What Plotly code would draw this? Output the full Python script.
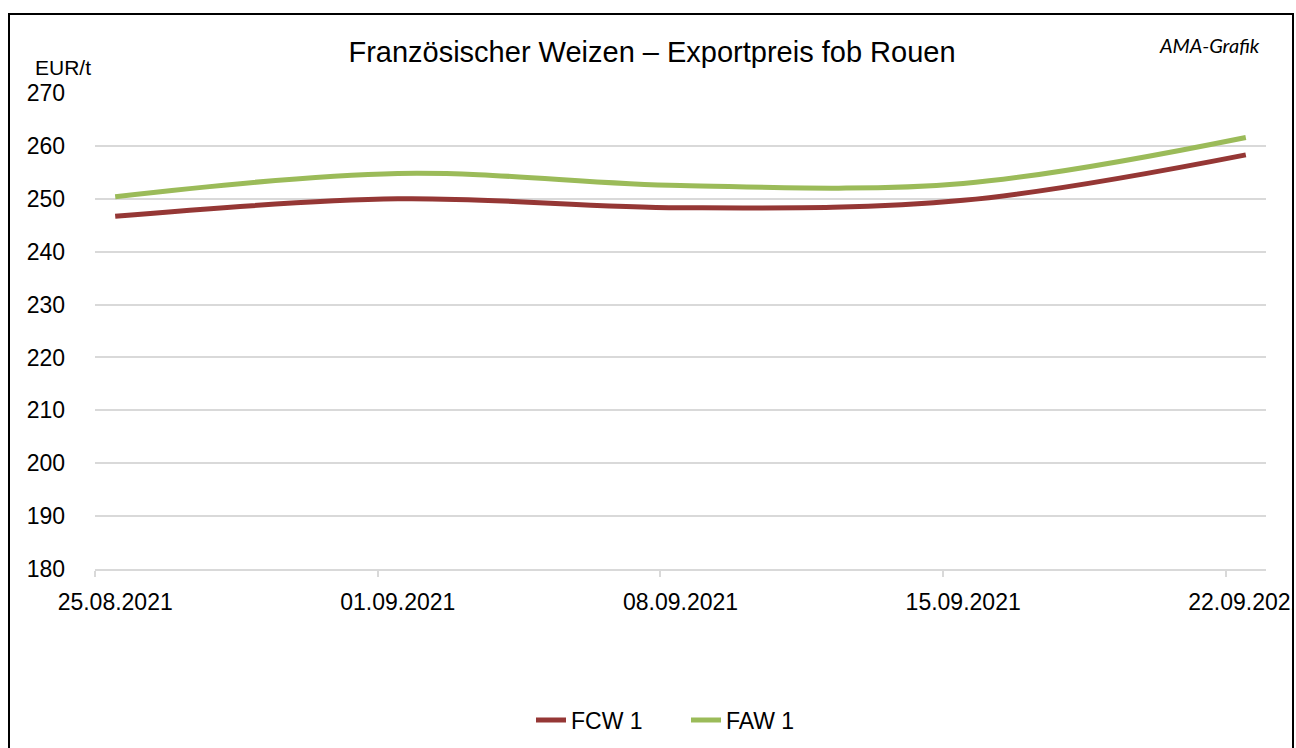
import plotly.graph_objects as go
import pandas as pd

dates = ["2021-08-25", "2021-09-01", "2021-09-08", "2021-09-15", "2021-09-22"]
fcw1 = [246.7, 250.0, 248.3, 249.7, 258.3]
faw1 = [250.4, 254.8, 252.5, 252.9, 261.6]
tick_dates = ["2021-08-25", "2021-09-01", "2021-09-08", "2021-09-15", "2021-09-22"]
tick_labels = ["25.08.2021", "01.09.2021", "08.09.2021", "15.09.2021", "22.09.2021"]

# Excel date axis: points (and labels) sit in the middle of each day
x_pts = [pd.Timestamp(d) + pd.Timedelta(hours=12) for d in dates]
label_pos = [pd.Timestamp(d) + pd.Timedelta(hours=12) for d in tick_dates]

FONT = "Liberation Sans, Arial, sans-serif"
W, H = 1296, 748
L, R, T, B = 95, 30, 93, 179
PW, PH = W - L - R, H - T - B


def px(x):
    return (x - L) / PW


def py(y):
    return (H - B - y) / PH


fig = go.Figure()
fig.add_trace(go.Scatter(x=x_pts, y=fcw1, name="FCW 1", mode="lines",
                         line=dict(color="#953735", width=5, shape="spline", smoothing=1.0)))
fig.add_trace(go.Scatter(x=x_pts, y=faw1, name="FAW 1", mode="lines",
                         line=dict(color="#9BBB59", width=5, shape="spline", smoothing=1.0)))

fig.update_layout(
    width=W, height=H,
    margin=dict(l=L, r=R, t=T, b=B, autoexpand=False),
    paper_bgcolor="white", plot_bgcolor="white",
    font=dict(family=FONT, size=23, color="black"),
    title=dict(text="Französischer Weizen – Exportpreis fob Rouen",
               x=652 / W, xanchor="center", y=1 - 52 / H, yanchor="middle",
               font=dict(family=FONT, size=29, color="black")),
    showlegend=True,
    legend=dict(orientation="h", x=px(686), xanchor="center", y=py(720), yanchor="middle",
                font=dict(family=FONT, size=23), traceorder="normal", entrywidth=110),
    xaxis=dict(type="date", range=["2021-08-25", "2021-09-23"],
               tickvals=label_pos, ticktext=tick_labels, ticks="",
               ticklabeloverflow="allow", automargin=False,
               showgrid=False, showline=True, linecolor="#d9d9d9", linewidth=2,
               ticklabelstandoff=11, tickfont=dict(size=23), zeroline=False,
               minor=dict(tickvals=tick_dates, ticks="outside", tickcolor="#d9d9d9",
                          ticklen=6, tickwidth=2, showgrid=False)),
    yaxis=dict(range=[180, 270], dtick=10, tick0=180, automargin=False,
               showgrid=True, gridcolor="#d9d9d9", gridwidth=2,
               showline=False, zeroline=False, ticks="",
               ticklabelstandoff=29, tickfont=dict(size=23)),
)

fig.add_annotation(text="EUR/t", xref="paper", yref="paper",
                   x=px(63), y=py(68), xanchor="center", yanchor="middle",
                   showarrow=False, font=dict(family=FONT, size=21))
fig.add_annotation(text="<i>AMA-Grafik</i>", xref="paper", yref="paper",
                   x=px(1262), y=py(45), xanchor="right", yanchor="middle",
                   showarrow=False, font=dict(family="Lato, sans-serif", size=20))

# mask anything beyond the chart border, then draw the border
fig.add_shape(type="rect", xref="paper", yref="paper",
              x0=px(1293), x1=px(1296), y0=py(748), y1=py(0),
              line=dict(width=0), fillcolor="white", layer="above")
fig.add_shape(type="rect", xref="paper", yref="paper",
              x0=px(9), x1=px(1293), y0=py(768), y1=py(14),
              line=dict(color="black", width=2), layer="above")

fig.write_html("out.html", config={"displayModeBar": False})

# remove the default page margin so the figure sits at the window origin
with open("out.html", "r", encoding="utf-8") as f:
    html = f.read()
html = html.replace("<body>", '<body style="margin:0;overflow:hidden">', 1)
with open("out.html", "w", encoding="utf-8") as f:
    f.write(html)
